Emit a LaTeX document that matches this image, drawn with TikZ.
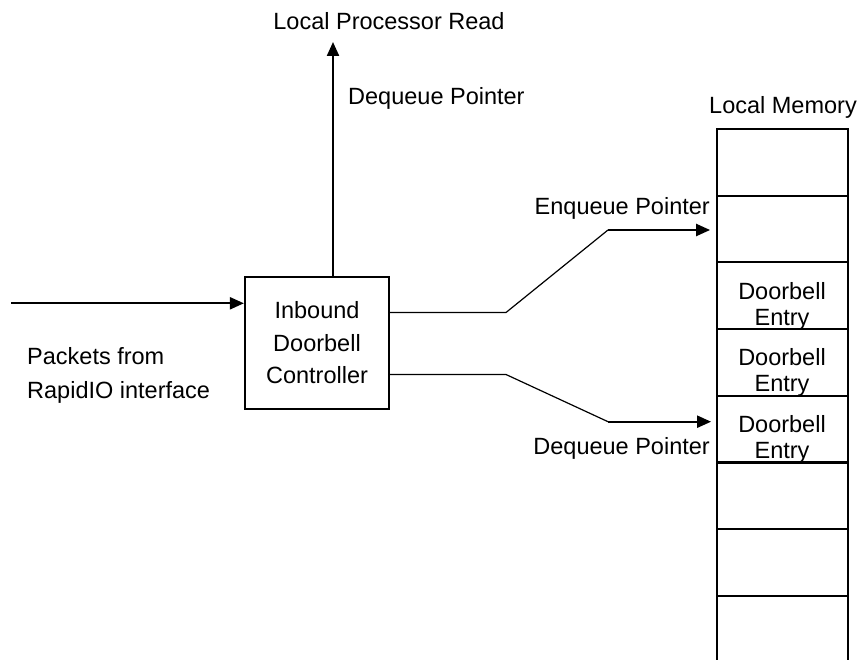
\documentclass[tikz,border=0pt]{standalone}
\usepackage{fontspec}
\setmainfont{Liberation Sans}
\usetikzlibrary{arrows.meta}
\begin{document}
\begin{tikzpicture}[x=1pt,y=-1pt,
  txt/.style={inner sep=0pt,font=\fontsize{23.5}{32.5}\selectfont},
  ctrlbox/.style={draw,line width=2.2pt,minimum width=144pt,minimum height=132pt,inner sep=0pt,align=center,font=\fontsize{23.5}{32.5}\selectfont},
  cell/.style={draw,line width=2.2pt,minimum width=131.6pt,minimum height=66.7pt,inner sep=0pt},
  celltxt/.style={inner sep=0pt,align=center,font=\fontsize{23.5}{26}\selectfont},
  thickarrow/.style={line width=2.2pt,-{Triangle[length=14pt,width=12pt]}},
  thinline/.style={line width=1.2pt}]
\useasboundingbox (0,0) rectangle (859,660);

% controller
\node[ctrlbox] (ctrl) at (317,343) {Inbound\\Doorbell\\Controller};

% memory column
\foreach \i in {1,...,8}{
  \node[cell] (m\i) at (782.5,{162.35+(\i-1)*66.7}) {};
}
\node[celltxt] (d3) at (782,{262.4+43.8}) {Doorbell\\Entry};
\node[celltxt] (d4) at (782,{329.1+43.8}) {Doorbell\\Entry};
\node[celltxt] (d5) at (782,{395.8+43.8}) {Doorbell\\Entry};

% labels
\node[txt,anchor=base] (lpr) at (389,30) {Local Processor Read};
\node[txt,anchor=base west] (dqu) at (348,105) {Dequeue Pointer};
\node[txt,anchor=base] (lm) at (783,114) {Local Memory};
\node[txt,anchor=base east] (enq) at (710,215) {Enqueue Pointer};
\node[txt,anchor=base east] (dql) at (710,454) {Dequeue Pointer};
\node[txt,anchor=west,align=left,font=\fontsize{23.5}{34}\selectfont] (pk) at (27,375.9) {Packets from\\RapidIO interface};

% connectors
\coordinate (lprtip) at (333,42);
\draw[thickarrow] (ctrl.north -| lprtip) -- (lprtip);

\coordinate (inp) at (11,303.3);
\draw[thickarrow] (inp) -- (ctrl.west |- inp);

\coordinate (e0) at (389,312.5);
\coordinate (e1) at (506,312.5);
\coordinate (e2) at (608,230);
\draw[thinline] (ctrl.east |- e0) -- (e1) -- (e2);
\draw[thickarrow,shorten >=5.5pt] (e2) -- (m2.west |- e2);

\coordinate (q0) at (389,374.5);
\coordinate (q1) at (506,374.5);
\coordinate (q2) at (608,421.7);
\draw[thinline] (ctrl.east |- q0) -- (q1) -- (q2);
\draw[thickarrow,shorten >=4.5pt] (q2) -- (m5.west |- q2);
\end{tikzpicture}
\end{document}
